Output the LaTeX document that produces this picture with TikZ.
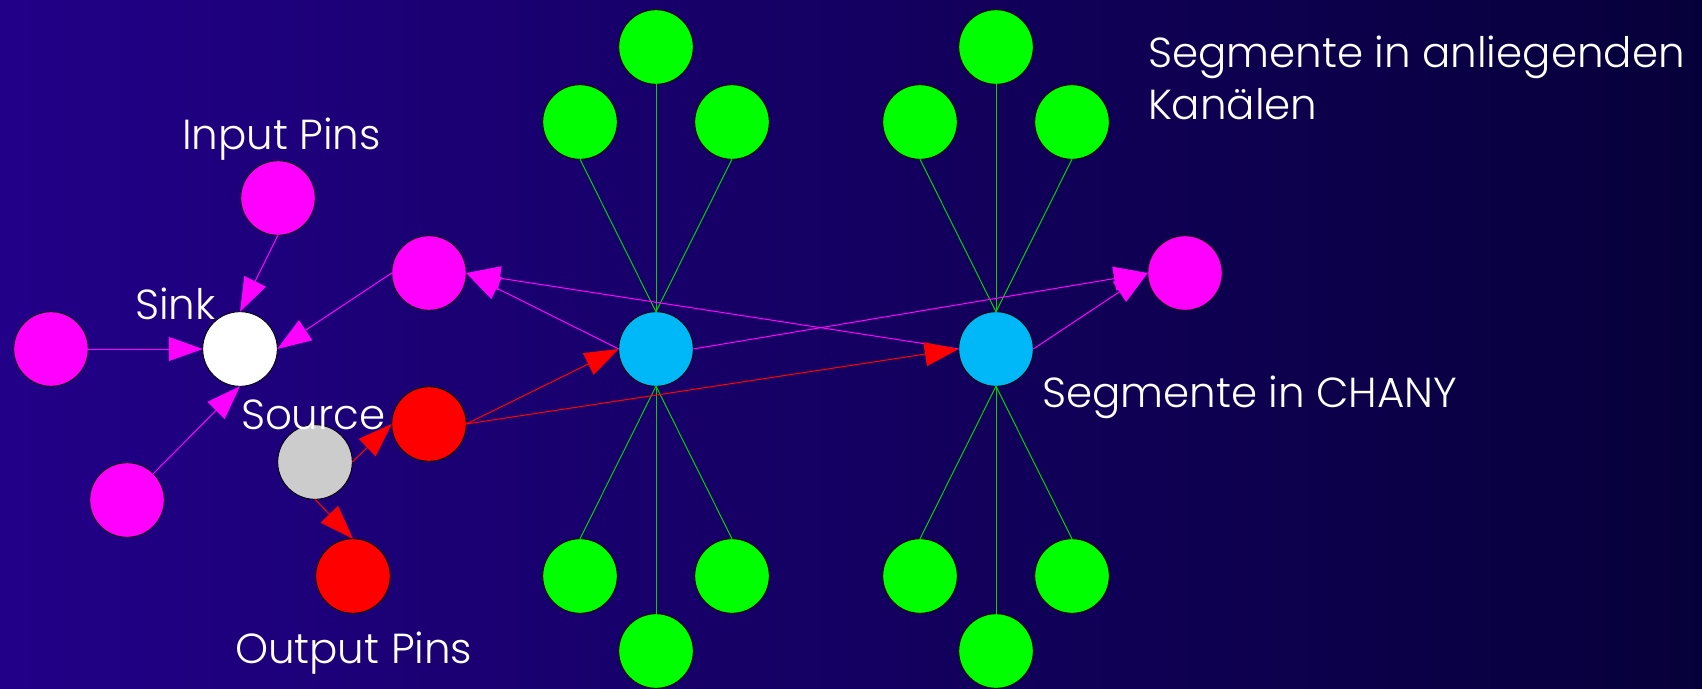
\documentclass[tikz,border=0pt]{standalone}
\usepackage{fontspec}
\setmainfont{Poppins}[UprightFont=* Light]
\usetikzlibrary{arrows.meta}

\definecolor{bgleft}{RGB}{34,0,136}
\definecolor{bgright}{RGB}{6,0,58}
\definecolor{segblue}{RGB}{0,184,248}
\definecolor{pinmag}{RGB}{255,0,255}
\definecolor{linkgreen}{RGB}{0,210,0}
\definecolor{srcgray}{RGB}{204,204,204}

\tikzset{
  vertex/.style={circle, draw=black, line width=0.8pt, minimum size=74.5pt,
                 inner sep=0pt, outer sep=0pt},
  wire/.style={vertex, fill=green},
  chan/.style={vertex, fill=segblue},
  ipin/.style={vertex, fill=pinmag},
  opin/.style={vertex, fill=red},
  sinknode/.style={vertex, fill=white},
  srcnode/.style={vertex, fill=srcgray},
  greenlink/.style={draw=linkgreen, line width=1pt},
  edge/.style={line width=1pt, -{Triangle[length=34pt, width=24pt]}},
  magedge/.style={edge, draw=pinmag, fill=pinmag},
  rededge/.style={edge, draw=red, fill=red},
  lbl/.style={text=white, font=\fontsize{42}{50}\selectfont, anchor=base west,
              inner sep=0pt, outer sep=0pt}
}

\begin{document}
\begin{tikzpicture}[x=1pt, y=-1pt]
  \useasboundingbox (0,0) rectangle (1702,688);
  \shade[left color=bgleft, right color=bgright] (0,0) rectangle (1702,688);

  % routing segments of the two vertical channels
  \foreach \c/\x in {a/656, b/996} {
    \node[chan] (ch\c) at (\x,349) {};
    \node[wire] (t\c1) at (\x,47) {};
    \node[wire] (t\c2) at (\x-76,122) {};
    \node[wire] (t\c3) at (\x+76,122) {};
    \node[wire] (b\c1) at (\x-76,576) {};
    \node[wire] (b\c2) at (\x+76,576) {};
    \node[wire] (b\c3) at (\x,651) {};
    \foreach \i in {1,2,3} {
      \draw[greenlink] (t\c\i.south) -- (ch\c.north);
      \draw[greenlink] (b\c\i.north) -- (ch\c.south);
    }
  }

  % logic block pins, sink and source
  \node[sinknode] (sink) at (240,349) {};
  \node[ipin] (inpTop)   at (278,198) {};
  \node[ipin] (inpLeft)  at (51,349) {};
  \node[ipin] (inpLow)   at (127,500) {};
  \node[ipin] (inpChan)  at (429,273) {};
  \node[ipin] (inpRight) at (1185,273) {};
  \node[srcnode] (src) at (315,462) {};
  \node[opin] (outChan) at (429,424) {};
  \node[opin] (outLow)  at (353,576) {};

  % input pins into the sink
  \draw[magedge] (inpLeft.east) -- (sink.west);
  \draw[magedge] (inpTop.south) -- (sink.north);
  \draw[magedge] (inpLow.north east) -- (sink.south);
  \draw[magedge] (inpChan.west) -- (sink.east);

  % channel segments driving input pins
  \draw[magedge] (cha.west) -- (inpChan.east);
  \draw[magedge] (chb.west) -- (inpChan.east);
  \draw[magedge] (cha.east) -- (inpRight.west);
  \draw[magedge] (chb.east) -- (inpRight.west);

  % source to output pins, output pin into channel segments
  \draw[rededge] (src.east) -- (outChan.west);
  \draw[rededge] (src.south) -- (outLow.north);
  \draw[rededge] (outChan.east) -- (cha.west);
  \draw[rededge] (outChan.east) -- (chb.west);

  % labels
  \node[lbl] (lInput)  at (182,149) {Input Pins};
  \node[lbl] (lSink)   at (135,319) {Sink};
  \node[lbl] (lSource) at (241,429) {Source};
  \node[lbl] (lOutput) at (235,663) {Output Pins};
  \node[lbl] (lAdj1)   at (1148,67) {Segmente in anliegenden};
  \node[lbl] (lAdj2)   at (1148,119) {Kanälen};
  \node[lbl] (lChan)   at (1042,407) {Segmente in CHANY};
\end{tikzpicture}
\end{document}
